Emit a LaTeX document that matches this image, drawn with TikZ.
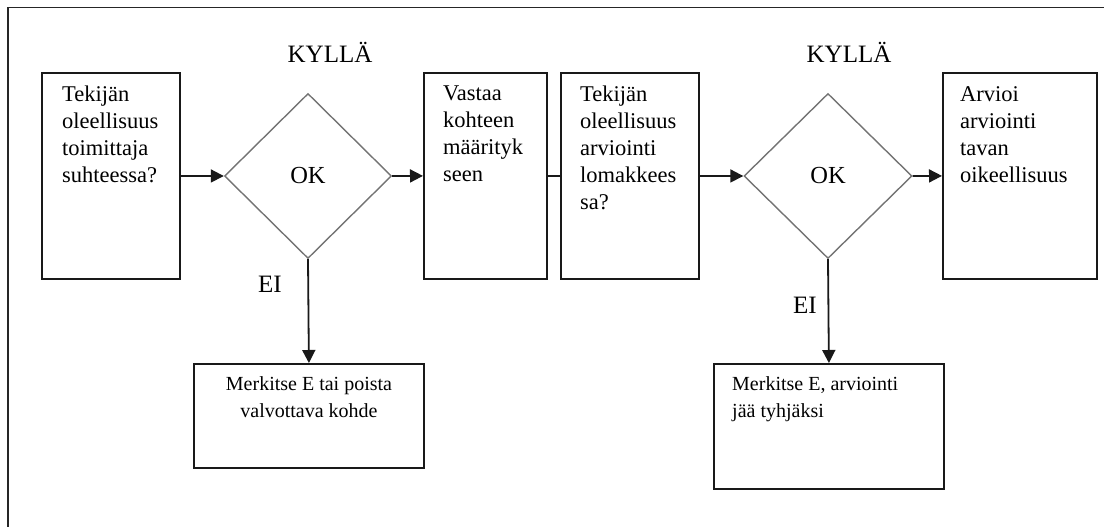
\documentclass[tikz,border=0pt]{standalone}
\usepackage{fontspec}
\setmainfont{Liberation Serif}
\usetikzlibrary{arrows.meta,shapes.geometric}
\begin{document}
\begin{tikzpicture}[x=1pt,y=-1pt,
  box/.style={draw=black!90,line width=1.8pt,rectangle,inner sep=0pt,anchor=north west},
  dec/.style={draw=black!55,line width=1.4pt,diamond,inner sep=0pt,minimum width=167pt,minimum height=165pt,font=\fontsize{24.5}{27}\selectfont},
  txt/.style={inner sep=0pt,anchor=north west,align=left,font=\fontsize{22.5}{27}\selectfont},
  small/.style={inner sep=0pt,anchor=north,align=center,font=\fontsize{20}{27}\selectfont},
  title/.style={inner sep=0pt,anchor=base,font=\fontsize{25}{27}\selectfont},
  arr/.style={line width=1.8pt,draw=black!90,-{Triangle[length=13pt,width=13pt]}},
  ln/.style={line width=1.8pt,draw=black!90}]
\useasboundingbox (0,0) rectangle (1104,527);
% frame
\coordinate (ftl) at (8,7.5);
\coordinate (ftr) at (1104,7.5);
\coordinate (fbl) at (8,527);
\draw[line width=1.8pt,black!85] (ftr) -- (ftl) -- (fbl);
% boxes
\node[box,minimum width=138pt,minimum height=206pt] (b1) at (41,72) {};
\node[box,minimum width=123pt,minimum height=206pt] (b2) at (423,72) {};
\node[box,minimum width=138pt,minimum height=206pt] (b3) at (560,72) {};
\node[box,minimum width=154pt,minimum height=206pt] (b4) at (942,72) {};
\node[box,minimum width=230pt,minimum height=104pt] (bb1) at (193,363) {};
\node[box,minimum width=230pt,minimum height=125pt] (bb2) at (713,363) {};
% diamonds
\node[dec] (d1) at (308,176) {OK};
\node[dec,minimum width=168pt] (d2) at (828,176) {OK};
% texts
\node[txt] (t1) at (62,86) {Tekijän\\oleellisuus\\toimittaja\\suhteessa?};
\node[txt] (t2) at (443,86) {Vastaa\\kohteen\\määrityk\\seen};
\node[txt] (t3) at (580,86) {Tekijän\\oleellisuus\\arviointi\\lomakkees\\sa?};
\node[txt] (t4) at (960,86) {Arvioi\\arviointi\\tavan\\oikeellisuus};
\node[small] (tb1) at (309,376) {Merkitse E tai poista\\valvottava kohde};
\node[small,anchor=north west,align=left] (tb2) at (732,376) {Merkitse E, arviointi\\jää tyhjäksi};
\node[title] (k1) at (330,63) {KYLLÄ};
\node[title] (k2) at (849,63) {KYLLÄ};
\node[title] (e1) at (270,292) {EI};
\node[title] (e2) at (805,313) {EI};
% connectors
\draw[arr] (b1.east) -- (d1.west);
\draw[arr] (d1.east) -- (b2.west);
\draw[ln] (b2.east) -- (b3.west);
\draw[arr] (b3.east) -- (d2.west);
\draw[arr] (d2.east) -- (b4.west);
\draw[arr] (d1.south) -- (bb1.north);
\draw[arr] (d2.south) -- (bb2.north);
\end{tikzpicture}
\end{document}
